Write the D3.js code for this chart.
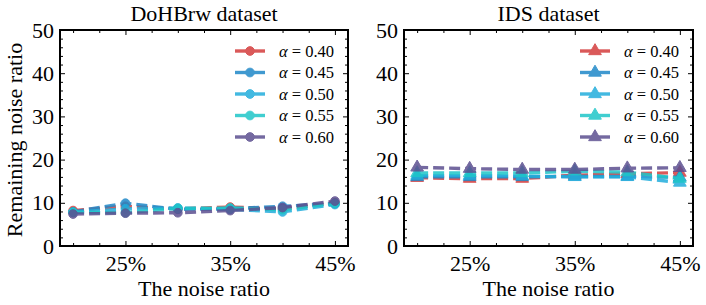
<!DOCTYPE html>
<html><head><meta charset="utf-8">
<script src="https://cdn.jsdelivr.net/npm/d3@7"></script>
<style>body{margin:0;background:#fff}svg{display:block}</style>
</head><body>
<script>
const noiseRatios = [20, 25, 30, 35, 40, 45];
const alphas = ["0.40", "0.45", "0.50", "0.55", "0.60"];
const colors = ["#d43d3d", "#1f88c8", "#22addc", "#1fc6c8", "#5c4f90"];
const dohValues = [
  [8.2, 9.2, 8.6, 9.0, 8.6, 10.0],
  [7.9, 9.9, 8.5, 8.6, 9.2, 9.8],
  [7.8, 8.6, 8.8, 8.5, 7.9, 9.6],
  [7.8, 7.7, 8.7, 8.8, 8.4, 9.9],
  [7.4, 7.6, 7.7, 8.2, 8.9, 10.4]
];
const idsValues = [
  [15.8, 15.6, 15.6, 16.4, 16.7, 17.0],
  [16.0, 16.0, 16.0, 16.1, 16.1, 15.9],
  [16.3, 16.3, 16.2, 16.0, 16.0, 14.7],
  [16.9, 16.9, 16.9, 17.3, 17.1, 15.6],
  [18.2, 17.9, 17.7, 17.7, 18.0, 18.1]
];
const yTicks = [0, 10, 20, 30, 40, 50];
const xTicks = [25, 35, 45];
const titles = ["DoHBrw dataset", "IDS dataset"];

const FONT = "'Liberation Serif', 'Times New Roman', Tinos, 'DejaVu Serif', serif";
const W = 706, H = 305;
const svg = d3.select("body").append("svg").attr("width", W).attr("height", H)
  .style("font-family", FONT);

const panels = [
  {x0: 60, x1: 348, data: dohValues, marker: d3.symbolCircle, title: titles[0], legX: 235},
  {x0: 404, x1: 693, data: idsValues, marker: d3.symbolTriangle, title: titles[1], legX: 580}
];
const plotTop = 30, plotBottom = 246;

panels.forEach((p, pi) => {
  const x = d3.scaleLinear().domain([18.75, 46.25]).range([p.x0, p.x1]);
  const y = d3.scaleLinear().domain([0, 50]).range([plotBottom, plotTop]);
  const g = svg.append("g");

  const line = d3.line().x((d, i) => x(noiseRatios[i])).y(d => y(d));
  const sym = d3.symbol().type(p.marker).size(pi === 0 ? 60 : 70);
  p.data.forEach((vals, si) => {
    const sg = g.append("g").attr("opacity", 0.85);
    sg.append("path").datum(vals).attr("d", line).attr("fill", "none")
      .attr("stroke", colors[si]).attr("stroke-width", 3.4)
      .attr("stroke-dasharray", "11,5");
    sg.selectAll("path.m").data(vals).join("path").attr("class", "m")
      .attr("d", sym)
      .attr("transform", (d, i) => `translate(${x(noiseRatios[i])},${y(d)})`)
      .attr("fill", colors[si]).attr("stroke", colors[si]).attr("stroke-width", 1);
  });

  const yMinor = d3.range(0, 51, 2).filter(v => v % 10 !== 0);
  const xMinor = d3.range(20, 46.3, 2.5).filter(v => !xTicks.includes(v));
  const addAxis = (axisFn, tr) => {
    const a = g.append("g").attr("transform", tr).call(axisFn);
    a.attr("font-family", null).attr("font-size", null);
    a.select(".domain").remove();
    a.selectAll("line").attr("stroke", "#000").attr("stroke-width", 1);
    a.selectAll("text").style("font-family", FONT).style("font-size", "22px").attr("fill", "#000");
    return a;
  };
  addAxis(d3.axisLeft(y).tickValues(yTicks).tickSize(-5).tickPadding(6), `translate(${p.x0},0)`);
  addAxis(d3.axisLeft(y).tickValues(yMinor).tickSize(-3).tickFormat(""), `translate(${p.x0},0)`);
  addAxis(d3.axisRight(y).tickValues(yTicks).tickSize(-5).tickFormat(""), `translate(${p.x1},0)`);
  addAxis(d3.axisRight(y).tickValues(yMinor).tickSize(-3).tickFormat(""), `translate(${p.x1},0)`);
  addAxis(d3.axisBottom(x).tickValues(xTicks).tickSize(-5).tickPadding(9).tickFormat(d => d + "%"), `translate(0,${plotBottom})`);
  addAxis(d3.axisBottom(x).tickValues(xMinor).tickSize(-3).tickFormat(""), `translate(0,${plotBottom})`);
  addAxis(d3.axisTop(x).tickValues(xTicks).tickSize(-5).tickFormat(""), `translate(0,${plotTop})`);
  addAxis(d3.axisTop(x).tickValues(xMinor).tickSize(-3).tickFormat(""), `translate(0,${plotTop})`);

  g.append("rect").attr("x", p.x0).attr("y", plotTop).attr("width", p.x1 - p.x0).attr("height", plotBottom - plotTop)
    .attr("fill", "none").attr("stroke", "#000").attr("stroke-width", 2);

  g.append("text").attr("x", (p.x0 + p.x1) / 2).attr("y", 21).attr("text-anchor", "middle")
    .style("font-family", FONT).style("font-size", "22px").text(p.title);
  g.append("text").attr("x", (p.x0 + p.x1) / 2).attr("y", 296).attr("text-anchor", "middle")
    .style("font-family", FONT).style("font-size", "22px").text("The noise ratio");

  alphas.forEach((a, si) => {
    const ly = 51 + si * 21.5;
    const lg = g.append("g").attr("opacity", 0.85);
    lg.append("line").attr("x1", p.legX).attr("x2", p.legX + 30).attr("y1", ly).attr("y2", ly)
      .attr("stroke", colors[si]).attr("stroke-width", 3.4);
    lg.append("path").attr("d", sym).attr("transform", `translate(${p.legX + 15},${ly})`)
      .attr("fill", colors[si]).attr("stroke", colors[si]);
    const t = g.append("text").attr("x", p.legX + 44).attr("y", ly + 5.5)
      .style("font-family", FONT).style("font-size", "16.5px");
    t.append("tspan").attr("font-style", "italic").text("α");
    t.append("tspan").text(" = " + a);
  });
});

svg.append("text").attr("transform", "translate(22,140) rotate(-90)").attr("text-anchor", "middle")
  .style("font-family", FONT).style("font-size", "22px").text("Remaining noise ratio");
</script>
</body></html>
